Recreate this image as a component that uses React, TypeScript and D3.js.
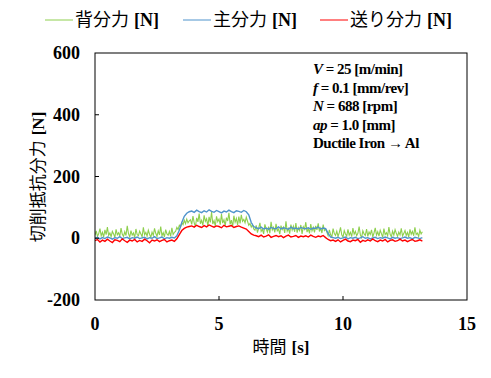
import React from "react";
import * as d3 from "d3";

const greenInterval = 0.05; // s
const sampleInterval = 0.1; // s
const xTicks = [0, 5, 10, 15];
const yTicks = [-200, 0, 200, 400, 600];

const seriesNames = ["背分力", "主分力", "送り分力"];
const seriesColors = ["#8ecf4e", "#4f93cc", "#ff0000"];

const thrustForce = [
  10, 24, 6, 15, 31, 8, 19, 4, 27, 12, 36, 9, 17, 5, 22, 14, 3, 29, 11, 18,
  7, 33, 13, 6, 21, 9, 40, 15, 4, 25, 10, 17, 2, 30, 12, 8, 23, 14, 5, 35,
  11, 19, 7, 26, 13, 3, 20, 9, 32, 16, 6, 24, 11, 38, 8, 18, 4, 28, 14, 10,
  22, 6, 34, 12, 19,
  22, 35, 28, 42, 36, 50, 44, 58, 47, 62, 50, 56,
  60, 45, 72, 50, 38, 66, 53, 80, 47, 58, 42, 74, 55, 63, 40, 69, 51, 85, 46, 57,
  39, 71, 54, 62, 44, 78, 49, 60, 41, 67, 56, 82, 45, 59, 37, 73, 52, 64, 43, 70,
  48, 76, 55, 61, 50, 68,
  55, 42, 48, 36, 44, 30,
  26, 42, 18, 33, 50, 22, 29, 14, 45, 31, 20, 38, 16, 53, 27, 35, 19, 47, 24, 30,
  13, 41, 28, 36, 17, 55, 23, 32, 15, 44, 26, 39, 21, 49, 18, 34, 25, 43, 14, 37,
  29, 52, 20, 31, 16, 46, 24, 35, 19, 40, 27, 48, 22, 33, 17, 44, 25, 30,
  20, 8, 27, 12, 4, 31, 15, 9, 23, 6, 18, 35, 11, 3, 25, 14, 7, 29, 10, 19,
  5, 33, 13, 22, 8, 16, 38, 11, 2, 24, 14, 9, 30, 6, 20, 12, 27, 4, 17, 34,
  10, 21, 7, 26, 15, 3, 31, 12, 18, 8, 36, 13, 5, 23, 10, 28, 16, 6, 20, 11,
  32, 7, 15, 25, 9, 19, 4, 29, 13, 22, 8, 35, 12, 17, 6, 26, 14, 21,
];

const principalForce = [
  0, 3, -2, 2, -1, 4, 1, -3, 2, 0, 5, -1, 1, 3, -2, 2, 0, 4, -1, 1, 3, -2, 2, 0, 5, -1, 1, 4, -2, 2, 0, 3, 1,
  8, 26, 51, 71, 81, 86,
  88, 84, 91, 86, 83, 89, 85, 92, 87, 84, 90, 86, 82, 88, 85, 91, 86, 83, 89, 87, 84, 90, 86,
  76, 51, 38,
  34, 31, 36, 30, 33, 29, 35, 32, 31, 37, 30, 34, 32, 29, 36, 31, 33, 30, 35, 32, 31, 34, 29, 33, 32, 36, 30, 33, 31,
  16, 4, 2, 0, 3, -1, 1, 4, -2, 2, 0, 3, -1, 1, 5, 0, 2, -2, 1, 3, -1, 2, 0, 4, 1, -2, 3, 0, 2, -1, 1, 4, 0, 2, -2, 3, 1, -1, 2,
];

const feedForce = [
  -8, -4, -12, -6, -10, -3, -9, -14, -5, -7, -11, -2, -8, -13, -6, -9, -4, -12, -7, -10, -3, -8, -15, -6, -9, -5, -11, -7, -4, -12, -8, -6, -10,
  -2, 12, 25, 32, 36, 38,
  40, 36, 42, 38, 35, 41, 37, 43, 39, 36, 40, 38, 34, 42, 37, 39, 41, 35, 38, 40, 36, 33, 30,
  22, 14, 10,
  8, 5, 10, 4, 7, 11, 3, 6, 9, 5, 8, 2, 7, 10, 4, 6, 9, 3, 7, 5, 8, 4, 10, 6, 3, 7, 5, 9, 2,
  -4, -8, -6, -10, -5, -12, -7, -3, -9, -11, -6, -8, -4, -13, -7, -10, -5, -9, -2, -8, -11, -6, -9, -4, -12, -7, -5, -10, -8, -3, -9, -6, -11, -7, -4, -10, -8, -5, -9,
];

const annotationLines = [
  { ital: "V", rest: " = 25 [m/min]" },
  { ital: "f", rest: " = 0.1 [mm/rev]" },
  { ital: "N", rest: " = 688 [rpm]" },
  { ital: "ap", rest: " = 1.0 [mm]" },
  { ital: "", rest: "Ductile  Iron → Al" },
];

const W = 491;
const H = 378;
const left = 95;
const right = 467;
const top = 53;
const bottom = 300;

const jp = "'Noto Sans CJK JP', sans-serif";
const serif = "'Liberation Serif', 'Times New Roman', 'DejaVu Serif', serif";

export default function App() {
  const x = d3.scaleLinear().domain([0, 15]).range([left, right]);
  const y = d3.scaleLinear().domain([-200, 600]).range([bottom, top]);
  const all: [number[], number][] = [
    [thrustForce, greenInterval],
    [principalForce, sampleInterval],
    [feedForce, sampleInterval],
  ];
  const mk = (dt: number) =>
    d3
      .line<number>()
      .x((_, i) => x(i * dt))
      .y((d) => y(d));

  const legendX = [45, 183, 320];
  const serifStyle = { fontFamily: serif, fontWeight: 700 } as React.CSSProperties;

  return (
    <svg width={W} height={H} style={{ position: "absolute", left: 0, top: 0, background: "#fff" }}>
      <rect x={0} y={0} width={W} height={H} fill="#fff" />
      {seriesNames.map((n, i) => (
        <g key={n}>
          <line x1={legendX[i]} x2={legendX[i] + 28} y1={20} y2={20} stroke={seriesColors[i]} strokeWidth={1} />
          <text x={legendX[i] + 30} y={26} style={{ fontFamily: jp, fontSize: 18 }} fill="#000">
            {n}
            <tspan style={serifStyle} dx={5}>[N]</tspan>
          </text>
        </g>
      ))}
      <defs>
        <clipPath id="clip">
          <rect x={left} y={top} width={right - left} height={bottom - top} />
        </clipPath>
      </defs>
      <g clipPath="url(#clip)">
        {all.map(([s, dt], i) => (
          <path key={i} d={mk(dt)(s) || ""} fill="none" stroke={seriesColors[i]} strokeWidth={i === 0 ? 1.1 : 1.4} />
        ))}
      </g>
      <rect x={left} y={top} width={right - left} height={bottom - top} fill="none" stroke="#000" strokeWidth={1} />
      {yTicks.slice(1, -1).map((t) => (
        <line key={t} x1={left} x2={left + 4} y1={y(t)} y2={y(t)} stroke="#000" />
      ))}
      {xTicks.slice(1, -1).map((t) => (
        <line key={t} x1={x(t)} x2={x(t)} y1={bottom} y2={bottom - 4} stroke="#000" />
      ))}
      {yTicks.map((t) => (
        <text key={t} x={80} y={y(t) + 6} textAnchor="end" style={{ ...serifStyle, fontSize: 18 }}>
          {t}
        </text>
      ))}
      {xTicks.map((t) => (
        <text key={t} x={x(t)} y={330} textAnchor="middle" style={{ ...serifStyle, fontSize: 18 }}>
          {t}
        </text>
      ))}
      <text x={281} y={353} textAnchor="middle" style={{ fontFamily: jp, fontSize: 17 }}>
        時間<tspan style={serifStyle} dx={5}>[s]</tspan>
      </text>
      <text transform={`translate(44,177) rotate(-90)`} textAnchor="middle" style={{ fontFamily: jp, fontSize: 17 }}>
        切削抵抗分力<tspan style={serifStyle} dx={5}>[N]</tspan>
      </text>
      {annotationLines.map((l, i) => (
        <text key={i} x={313} y={74 + i * 18.6} style={{ ...serifStyle, fontSize: 15, letterSpacing: -0.5 }}>
          {l.ital && <tspan style={{ fontStyle: "italic" }}>{l.ital}</tspan>}
          {l.rest}
        </text>
      ))}
    </svg>
  );
}
